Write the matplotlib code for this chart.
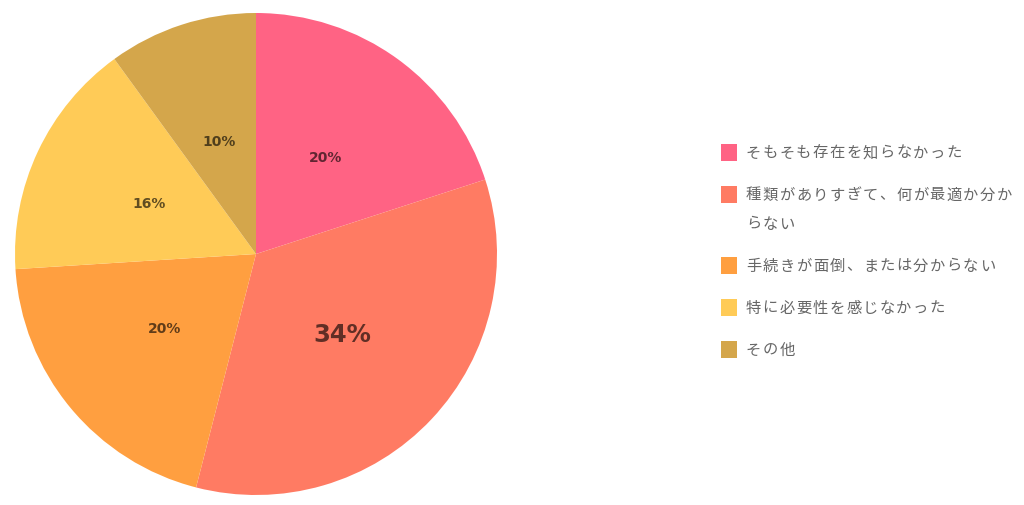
import matplotlib
matplotlib.use("Agg")
import matplotlib.pyplot as plt
from matplotlib.patches import Rectangle
import numpy as np

plt.rcParams['font.family'] = ['Noto Sans CJK JP', 'DejaVu Sans']

labels = ["そもそも存在を知らなかった",
          "種類がありすぎて、何が最適か分からない",
          "手続きが面倒、または分からない",
          "特に必要性を感じなかった",
          "その他"]
values = [20, 34, 20, 16, 10]
colors = ["#FF6384", "#FF7B63", "#FF9F40", "#FFCB57", "#D4A64B"]

W, H = 1024, 505
fig = plt.figure(figsize=(W / 100, H / 100), dpi=100)
fig.patch.set_facecolor("white")

# pie axes: center (256,254), radius 241 px
cx, cy, r = 256, 254, 241
ax = fig.add_axes([(cx - r) / W, (H - cy - r) / H, 2 * r / W, 2 * r / H])
wedges, _ = ax.pie(values, colors=colors, startangle=90, counterclock=False,
                   radius=1, wedgeprops=dict(linewidth=0))
ax.set_xlim(-1, 1)
ax.set_ylim(-1, 1)
ax.set_aspect("auto")
ax.axis("off")

total = sum(values)
ang = 90.0
for v in values:
    span = 360.0 * v / total
    mid = np.deg2rad(ang - span / 2)
    ang -= span
    big = v == max(values)
    ax.text(0.49 * np.cos(mid), 0.49 * np.sin(mid), f"{v}%",
            ha="center", va="center", fontsize=17.5 if big else 10,
            fontweight="bold", family=["DejaVu Sans"],
            color="black", alpha=0.62)

# manual legend
max_chars = 16
adv = 16.7
x_sq, sq_w, sq_h = 721, 16, 17
x_txt = 746
y = 153
for lab, col in zip(labels, colors):
    lines = [lab[i:i + max_chars] for i in range(0, len(lab), max_chars)]
    fig.patches.append(Rectangle((x_sq / W, (H - (y + sq_h / 2 - 1)) / H),
                                 sq_w / W, sq_h / H, transform=fig.transFigure,
                                 facecolor=col, edgecolor="none"))
    for k, line in enumerate(lines):
        yy = y + k * 29
        for j, ch in enumerate(line):
            fig.text((x_txt + j * adv + 7.5) / W, (H - yy) / H, ch,
                     ha="center", va="center", fontsize=11, color="#666666")
    y = y + (len(lines) - 1) * 29 + 42

fig.savefig("out.png", dpi=100, facecolor="white")
